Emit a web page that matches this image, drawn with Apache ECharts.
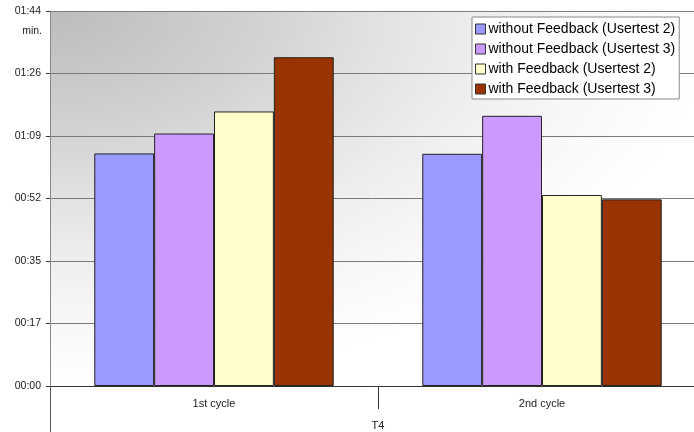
<!DOCTYPE html>
<html>
<head>
<meta charset="utf-8">
<script src="https://cdn.jsdelivr.net/npm/echarts@6/dist/echarts.min.js"></script>
<style>
  html, body { margin: 0; padding: 0; background: #fff; }
  #chart { width: 694px; height: 432px; }
</style>
</head>
<body>
<div id="chart"></div>
<script>
// Task T4 durations, in seconds
const cycles = ['1st cycle', '2nd cycle'];
const groupName = ['T4'];
const seriesNames = [
  'without Feedback (Usertest 2)',
  'without Feedback (Usertest 3)',
  'with Feedback (Usertest 2)',
  'with Feedback (Usertest 3)'
];
const withoutFeedbackU2 = [64.3, 64.2];
const withoutFeedbackU3 = [69.8, 74.7];
const withFeedbackU2 = [75.9, 52.8];
const withFeedbackU3 = [90.9, 51.6];
const seriesColors = ['#9999ff', '#cc99ff', '#ffffcc', '#993300'];

// value axis: step of 0.0002 day (17.28 s)
const yStep = 17.28;
const yMax = 103.68;

// plot area runs a little past the right edge of the canvas
const GRID = { left: 50, top: 11, width: 656, height: 375 };

function mmss(v) {
  const s = Math.round(v);
  const m = Math.floor(s / 60);
  const r = s % 60;
  return String(m).padStart(2, '0') + ':' + String(r).padStart(2, '0');
}

const seriesValues = [withoutFeedbackU2, withoutFeedbackU3, withFeedbackU2, withFeedbackU3];

const chart = echarts.init(document.getElementById('chart'), null, { renderer: 'canvas' });

chart.setOption({
  animation: false,
  textStyle: { fontFamily: 'Liberation Sans, Arial, sans-serif' },
  graphic: [{
    type: 'rect',
    silent: true,
    z: -100,
    x: GRID.left,
    y: GRID.top,
    scaleX: GRID.width / GRID.height,
    shape: { x: 0, y: 0, width: GRID.height, height: GRID.height },
    style: {
      fill: new echarts.graphic.RadialGradient(0, 0, 1, [
        { offset: 0, color: '#bcbcbc' },
        { offset: 0.33, color: '#d3d3d3' },
        { offset: 0.5, color: '#e2e2e2' },
        { offset: 0.66, color: '#eeeeee' },
        { offset: 0.82, color: '#f7f7f7' },
        { offset: 1, color: '#ffffff' }
      ])
    }
  }],
  grid: Object.assign({ outerBoundsMode: 'none', containLabel: false }, GRID),
  legend: {
    orient: 'vertical',
    left: 472,
    top: 17,
    padding: [5, 4, 3, 3],
    itemGap: 6,
    itemWidth: 10,
    itemHeight: 10,
    icon: 'rect',
    backgroundColor: '#ffffff',
    borderColor: '#888888',
    borderWidth: 1,
    borderRadius: 0,
    itemStyle: { borderColor: '#333333', borderWidth: 1 },
    textStyle: { fontSize: 14, color: '#000000', padding: [0, 0, 0, -2] },
    data: seriesNames
  },
  xAxis: [{
    type: 'category',
    data: cycles,
    boundaryGap: true,
    axisLine: { show: true, lineStyle: { color: '#333333', width: 1 } },
    axisTick: { show: true, alignWithLabel: false, length: 23, lineStyle: { color: '#333333' } },
    axisLabel: { fontSize: 11, color: '#222222', margin: 12 },
    splitLine: { show: false }
  }, {
    type: 'category',
    data: groupName,
    position: 'bottom',
    boundaryGap: true,
    axisLine: { show: false },
    axisTick: { show: true, alignWithLabel: false, length: 46, lineStyle: { color: '#555555' } },
    axisLabel: { fontSize: 11, color: '#222222', margin: 34 },
    splitLine: { show: false }
  }],
  yAxis: {
    type: 'value',
    min: 0,
    max: yMax,
    interval: yStep,
    name: 'min.',
    nameLocation: 'end',
    nameGap: -20,
    nameTextStyle: { fontSize: 10.5, color: '#222222', align: 'right', verticalAlign: 'middle', padding: [0, 8, 0, 0] },
    axisLine: { show: true, lineStyle: { color: '#888888', width: 1 } },
    axisTick: { show: true, inside: false, length: 4, lineStyle: { color: '#333333' } },
    axisLabel: { fontSize: 10.5, color: '#222222', margin: 9, formatter: mmss },
    splitLine: { show: true, lineStyle: { color: '#7a7a7a', width: 1 } }
  },
  series: seriesNames.map((name, i) => ({
    name: name,
    type: 'bar',
    xAxisIndex: 0,
    data: seriesValues[i],
    barGap: '0%',
    barCategoryGap: '27%',
    itemStyle: { color: seriesColors[i], borderColor: '#222222', borderWidth: 1 }
  }))
});
</script>
</body>
</html>
